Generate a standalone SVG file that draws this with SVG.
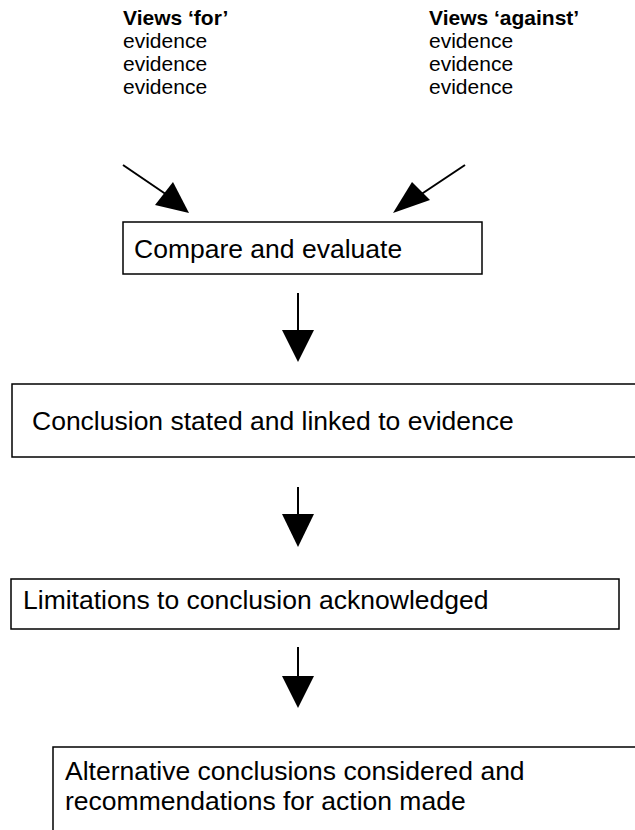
<svg xmlns="http://www.w3.org/2000/svg" width="635" height="830" viewBox="0 0 635 830">
<style>
text{font-family:"Liberation Sans",Arial,sans-serif;fill:#000}
.h{font-size:21px}
.b{font-weight:bold}
.t{font-size:26.5px}
.box{fill:#fff;stroke:#000;stroke-width:1.5}
.ln{stroke:#000;stroke-width:2;fill:none}
.hd{fill:#000;stroke:none}
</style>
<rect width="635" height="830" fill="#fff"/>
<g id="views-for">
<text class="h b" x="123" y="25">Views ‘for’</text>
<text class="h" x="123" y="48">evidence</text>
<text class="h" x="123" y="71">evidence</text>
<text class="h" x="123" y="94">evidence</text>
</g>
<g id="views-against">
<text class="h b" x="429" y="25">Views ‘against’</text>
<text class="h" x="429" y="48">evidence</text>
<text class="h" x="429" y="71">evidence</text>
<text class="h" x="429" y="94">evidence</text>
</g>
<g id="compare">
<rect class="box" x="123" y="222" width="359" height="52"/>
<text class="t" x="134" y="258">Compare and evaluate</text>
</g>
<g id="conclusion">
<rect class="box" x="12" y="384" width="640" height="73"/>
<text class="t" x="32" y="430">Conclusion stated and linked to evidence</text>
</g>
<g id="limitations">
<rect class="box" x="11" y="579" width="608" height="50"/>
<text class="t" x="23" y="609">Limitations to conclusion acknowledged</text>
</g>
<g id="alternative">
<rect class="box" x="53" y="747" width="600" height="100"/>
<text class="t" x="65" y="780">Alternative conclusions considered and</text>
<text class="t" x="65" y="810">recommendations for action made</text>
</g>
<g id="connectors">
<line class="ln" x1="123" y1="165" x2="170" y2="197"/>
<polygon class="hd" points="189,213 155,205 173,182"/>
<line class="ln" x1="465" y1="165" x2="420" y2="195"/>
<polygon class="hd" points="393,213 412,182 430,200"/>
<line class="ln" x1="298" y1="293" x2="298" y2="331"/>
<polygon class="hd" points="282,330 314,330 298,362"/>
<line class="ln" x1="298" y1="487" x2="298" y2="515"/>
<polygon class="hd" points="282,514 314,514 298,547"/>
<line class="ln" x1="298" y1="647" x2="298" y2="677"/>
<polygon class="hd" points="282,676 314,676 298,708"/>
</g>
</svg>
